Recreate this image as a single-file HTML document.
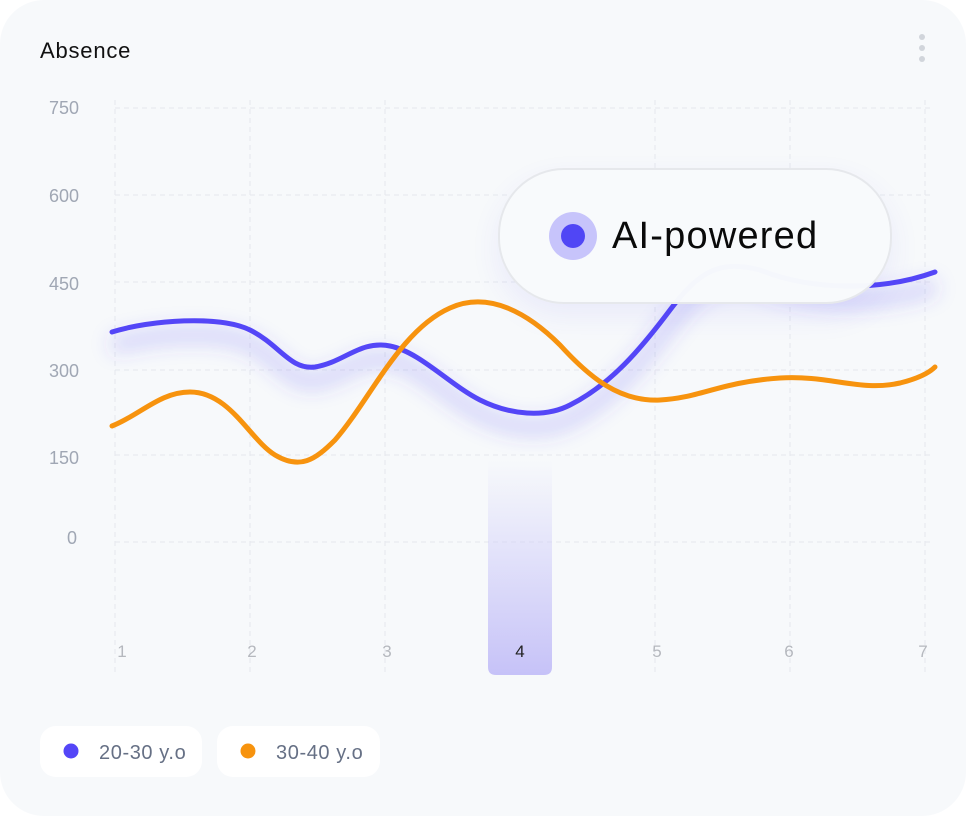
<!DOCTYPE html>
<html><head><style>
body{margin:0;background:#fff;width:966px;height:816px;overflow:hidden;font-family:"Liberation Sans",sans-serif}
.card{position:absolute;left:0;top:0;width:966px;height:816px;background:#f7f9fb;border-radius:44px}
</style></head><body>
<div class="card">
<svg width="966" height="816" style="position:absolute;left:0;top:0">
<defs>
<linearGradient id="hb" x1="0" y1="0" x2="0" y2="1">
<stop offset="0" stop-color="#c9c6f8" stop-opacity="0"/>
<stop offset="1" stop-color="#c6c2f8"/>
</linearGradient>
<filter id="bl" x="-20%" y="-50%" width="140%" height="200%"><feGaussianBlur stdDeviation="10"/></filter>
</defs>
<text x="40" y="58" font-size="22" fill="#111" letter-spacing="0.8">Absence</text>
<circle cx="922" cy="37" r="3" fill="#d1d5db"/><circle cx="922" cy="48" r="3" fill="#d1d5db"/><circle cx="922" cy="59" r="3" fill="#d1d5db"/>
<g stroke="#e5e8ee" stroke-width="1" stroke-dasharray="5 4">
<line x1="115" y1="108" x2="930" y2="108"/><line x1="115" y1="195" x2="930" y2="195"/>
<line x1="115" y1="282" x2="930" y2="282"/><line x1="115" y1="370" x2="930" y2="370"/>
<line x1="115" y1="455" x2="930" y2="455"/><line x1="115" y1="542" x2="930" y2="542"/>
<line x1="115" y1="100" x2="115" y2="675"/><line x1="250" y1="100" x2="250" y2="675"/>
<line x1="385" y1="100" x2="385" y2="675"/><line x1="655" y1="100" x2="655" y2="675"/>
<line x1="790" y1="100" x2="790" y2="675"/><line x1="925" y1="100" x2="925" y2="675"/>
</g>
<path d="M488 460 H552 V667 Q552 675 544 675 H496 Q488 675 488 667 Z" fill="url(#hb)"/>
<g font-size="18" fill="#a0a7b4" text-anchor="end">
<text x="79" y="114">750</text><text x="79" y="202">600</text><text x="79" y="290">450</text>
<text x="79" y="377">300</text><text x="79" y="464">150</text><text x="77" y="544">0</text>
</g>
<g font-size="17" fill="#b5b8be" text-anchor="middle">
<text x="122" y="657">1</text><text x="252" y="657">2</text><text x="387" y="657">3</text>
<text x="520" y="657" fill="#222">4</text><text x="657" y="657">5</text><text x="789" y="657">6</text><text x="923" y="657">7</text>
</g>
<path d="M112 332 C150 320 220 315 250 330 C280 345 290 370 315 367 C345 362 360 340 390 346 C420 352 450 385 480 400 C510 415 545 418 570 405 C610 385 640 350 670 310 C700 270 720 260 760 270 C810 290 880 292 935 272" fill="none" stroke="#5046f5" stroke-opacity="0.25" stroke-width="14" filter="url(#bl)" transform="translate(0,14)"/>
<path d="M112 332 C150 320 220 315 250 330 C280 345 290 370 315 367 C345 362 360 340 390 346 C420 352 450 385 480 400 C510 415 545 418 570 405 C610 385 640 350 670 310 C700 270 720 260 760 270 C810 290 880 292 935 272" fill="none" stroke="#5446f7" stroke-width="5" stroke-linecap="round"/>
<path d="M112 426 C140 415 160 392 190 392 C230 392 250 440 275 455 C300 470 315 460 335 440 C370 400 400 330 450 308 C490 290 530 315 560 345 C590 378 620 402 660 400 C700 398 720 382 780 378 C830 375 860 392 900 383 C920 378 930 372 935 367" fill="none" stroke="#f7930e" stroke-width="5" stroke-linecap="round"/>
</svg>
<div style="position:absolute;left:498px;top:168px;width:390px;height:132px;border-radius:66px;border:2px solid #e6e8ec;background:rgba(248,250,252,0.985);box-shadow:0 12px 30px rgba(80,70,245,0.08)"></div>
<svg width="966" height="816" style="position:absolute;left:0;top:0">
<circle cx="573" cy="236" r="24" fill="#c7c4fb"/><circle cx="573" cy="236" r="12" fill="#5046f5"/>
<text x="612" y="248" font-size="38" fill="#0a0a0a" letter-spacing="1.2">AI-powered</text>
</svg>
<div style="position:absolute;left:40px;top:726px;width:162px;height:51px;background:#fff;border-radius:16px"></div>
<div style="position:absolute;left:217px;top:726px;width:163px;height:51px;background:#fff;border-radius:16px"></div>
<svg width="966" height="816" style="position:absolute;left:0;top:0">
<circle cx="71" cy="751" r="7.5" fill="#5446f7"/>
<text x="99" y="759" font-size="20" fill="#667085" letter-spacing="0.6">20-30 y.o</text>
<circle cx="248" cy="751" r="7.5" fill="#f7930e"/>
<text x="276" y="759" font-size="20" fill="#667085" letter-spacing="0.6">30-40 y.o</text>
</svg>
</div>
</body></html>
